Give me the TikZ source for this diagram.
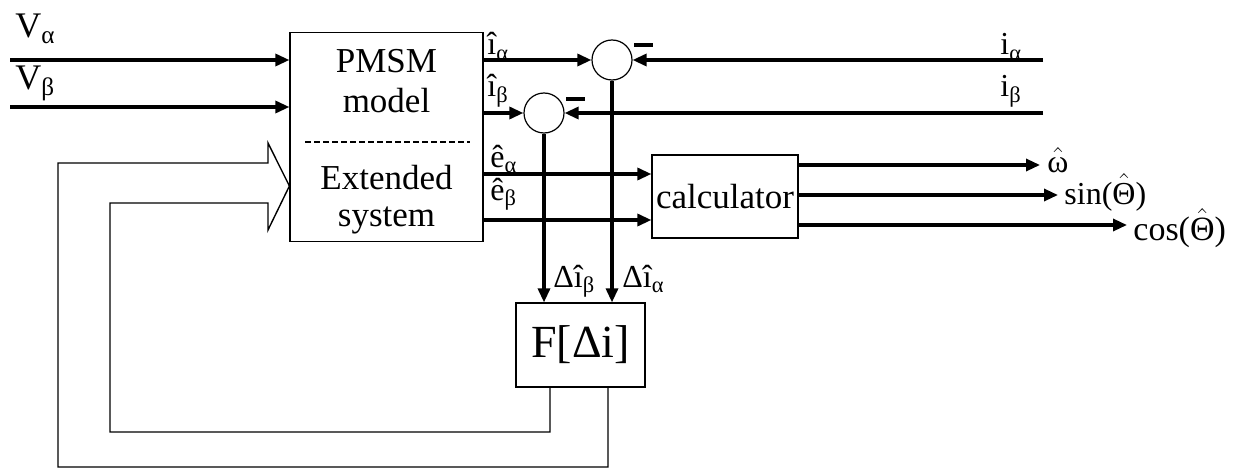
\documentclass[tikz,border=0pt]{standalone}
\usepackage{fontspec}
\setmainfont{Liberation Serif}
\usetikzlibrary{arrows.meta, positioning, calc}

\tikzset{
  blk/.style={draw, line width=0.6pt, inner sep=0pt},
  sumnode/.style={draw, circle, line width=0.6pt, minimum size=20pt, inner sep=0pt},
  sig/.style={line width=1.6pt, -{Triangle[length=7pt,width=6pt]}},
  fb/.style={line width=0.7pt},
  lbl/.style={inner sep=0pt, font=\fontsize{16}{19}\selectfont},
  big/.style={font=\fontsize{17.5}{20}\selectfont, align=center, inner sep=0pt},
}
\newcommand{\hatof}[1]{\smash{$\hat{\mbox{#1}}$}}

\begin{document}
\begin{tikzpicture}[x=0.5pt, y=-0.5pt]
    \useasboundingbox (0,0) rectangle (1241,476);

    % Blocks
    \node[blk, minimum width=96.5pt, minimum height=104.5pt] (pmsm) at (386.5,137) {};
    \node[big] (pmsmtxt) at (386.5,81) {PMSM\\model};
    \node[big, font=\fontsize{17.5}{18.5}\selectfont] (exttxt) at (386.5,200) {Extended\\system};
    \draw[dashed, dash pattern=on 3pt off 1.5pt, line width=0.9pt] (305,142) -- (470,142);

    \node[blk, minimum width=73pt, minimum height=41.5pt, font=\fontsize{17.5}{20}\selectfont] (calc) at (725,196.5) {calculator};
    \node[blk, minimum width=64.5pt, minimum height=42pt, font=\fontsize{23}{28}\selectfont] (filt) at (580.5,345) {F[Δi]};

    % Summing junctions
    \node[sumnode] (sa) at (612,60) {};
    \node[sumnode] (sb) at (544,113) {};
    \draw[line width=1.6pt] (634,45) -- (653,45);
    \draw[line width=1.6pt] (566,99) -- (585,99);

    % Free ends
    \coordinate (va) at (10,60);
    \coordinate (vb) at (10,107);
    \coordinate (ia) at (1043,60);
    \coordinate (ib) at (1043,113);
    \coordinate (ea) at ([yshift=11.25pt]calc.west);
    \coordinate (eb) at ([yshift=-11.75pt]calc.west);
    \coordinate (wo) at (1040,165);
    \coordinate (so) at (1058,195);
    \coordinate (co) at (1127,225);
    \coordinate (fbi) at ([xshift=-15.25pt]filt.south);
    \coordinate (fbo) at ([xshift=13.75pt]filt.south);

    % Signals
    \draw[sig] (va) -- (va -| pmsm.west);
    \draw[sig] (vb) -- (vb -| pmsm.west);
    \draw[sig] (pmsm.east |- sa) -- (sa.west);
    \draw[sig] (pmsm.east |- sb) -- (sb.west);
    \draw[sig] (ia) -- (sa.east);
    \draw[sig] (ib) -- (sb.east);
    \draw[sig] (sa.south) -- (sa.south |- filt.north);
    \draw[sig] (sb.south) -- (sb.south |- filt.north);
    \draw[sig] (pmsm.east |- ea) -- (ea);
    \draw[sig] (pmsm.east |- eb) -- (eb);
    \draw[sig] (calc.east |- wo) -- (wo);
    \draw[sig] (calc.east |- so) -- (so);
    \draw[sig] (calc.east |- co) -- (co);

    % Feedback into the extended system (hollow arrow)
    \draw[fb] (fbi) -- (fbi |- 0,432) -- (110,432) -- (110,203) -- (268,203) -- (268,230)
        -- (pmsm.west |- 0,186) -- (268,143) -- (268,163) -- (58,163) -- (58,467)
        -- (fbo |- 0,467) -- (fbo);

    % Labels
    \node[lbl, font=\fontsize{18}{21}\selectfont, anchor=base west] (lva) at (15,38) {V\textsubscript{α}};
    \node[lbl, font=\fontsize{18}{21}\selectfont, anchor=base west] (lvb) at (15,90) {V\textsubscript{β}};
    \node[lbl, anchor=base west] (lia) at (487,55) {\^{i}\textsubscript{α}};
    \node[lbl, anchor=base west] (lib) at (487,97) {\^{i}\textsubscript{β}};
    \node[lbl, anchor=base west] (lea) at (490,167) {\^{e}\textsubscript{α}};
    \node[lbl, anchor=base west] (leb) at (490,200) {\^{e}\textsubscript{β}};
    \node[lbl, anchor=base west] (ldb) at (553,287) {Δ\^{i}\textsubscript{β}};
    \node[lbl, anchor=base west] (lda) at (622,287) {Δ\^{i}\textsubscript{α}};
    \node[lbl, anchor=base west] (lma) at (1000,55) {i\textsubscript{α}};
    \node[lbl, anchor=base west] (lmb) at (1000,97) {i\textsubscript{β}};
    \node[lbl, anchor=base west] (lw) at (1047,172) {\hatof{ω}};
    \node[lbl, anchor=base west] (ls) at (1064,204) {sin(\hatof{Θ})};
    \node[lbl, font=\fontsize{17}{20}\selectfont, anchor=base west] (lc) at (1133,240) {cos(\hatof{Θ})};
\end{tikzpicture}
\end{document}
